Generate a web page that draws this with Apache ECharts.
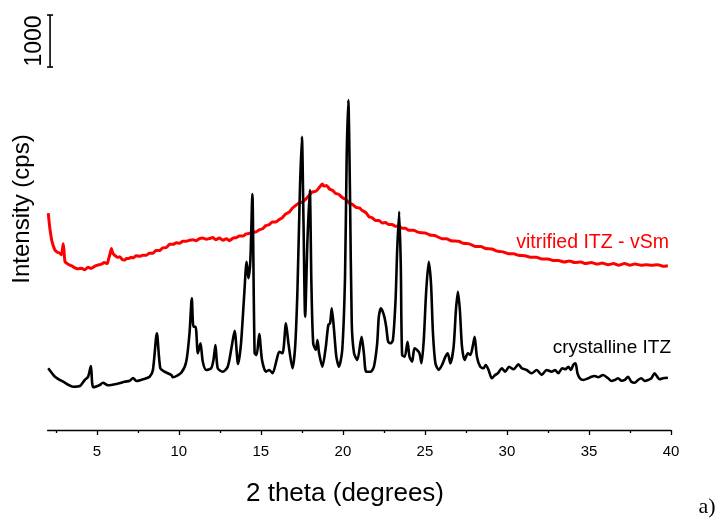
<!DOCTYPE html>
<html>
<head>
<meta charset="utf-8">
<script src="https://cdn.jsdelivr.net/npm/echarts@6/dist/echarts.min.js"></script>
<style>html,body{margin:0;padding:0;background:#fff}#c{width:720px;height:518px}</style>
</head>
<body>
<div id="c"></div>
<script>
// 2theta (degrees), intensity (cps)
const crystalline = [
[2.04,1187],[2.45,1025],[2.95,929],[3.56,833],[3.97,846],[4.27,962],[4.47,1025],[4.64,1231],[4.78,821],
[5.18,865],[5.37,910],[5.67,860],[6.20,885],[6.70,929],[7.01,948],[7.21,1000],[7.41,942],[7.81,975],
[8.22,1025],[8.42,1154],[8.66,1860],[8.87,1187],[9.13,1121],[9.54,1058],[9.64,1013],[10.15,1102],
[10.45,1313],[10.65,1860],[10.79,2533],[10.89,1987],[11.02,1987],[11.16,1475],[11.32,1667],[11.46,1313],
[11.67,1154],[11.97,1187],[12.11,1346],[12.23,1635],[12.37,1187],[12.67,1121],[12.98,1217],[13.22,1602],
[13.40,1910],[13.61,1269],[13.79,1667],[13.99,2629],[14.13,3236],[14.24,2917],[14.36,3269],[14.48,4538],
[14.62,1475],[14.74,1442],[14.90,1846],[15.07,1346],[15.31,1121],[15.51,1154],[15.71,1090],[15.96,1346],
[16.12,1506],[16.32,1475],[16.53,2052],[16.68,1667],[16.93,1187],[17.09,1602],[17.23,2692],[17.38,4615],
[17.50,5640],[17.60,3975],[17.70,2179],[17.84,3654],[17.98,4615],[18.08,2821],[18.19,1667],[18.35,1538],
[18.45,1731],[18.55,1475],[18.75,1217],[18.96,1602],[19.11,2019],[19.22,2052],[19.32,2340],[19.46,1923],
[19.60,1410],[19.76,1217],[19.96,1538],[20.13,2948],[20.23,5256],[20.33,6346],[20.43,4615],[20.54,2052],
[20.68,1475],[20.88,1346],[21.14,1794],[21.28,1475],[21.42,1121],[21.69,1121],[21.89,1217],[22.09,1667],
[22.19,2179],[22.32,2340],[22.50,2211],[22.64,1987],[22.76,1698],[22.91,1667],[23.05,1731],[23.21,2500],
[23.31,3461],[23.43,4198],[23.53,3140],[23.61,1442],[23.77,1410],[23.94,1698],[24.06,1410],[24.22,1313],
[24.36,1571],[24.52,1538],[24.67,1475],[24.79,1283],[24.93,1731],[25.07,2629],[25.23,3236],[25.37,2821],
[25.49,1860],[25.64,1283],[25.84,1154],[26.04,1250],[26.25,1410],[26.39,1475],[26.55,1283],[26.75,1602],
[26.89,2308],[27.01,2660],[27.13,2308],[27.26,1602],[27.42,1346],[27.62,1475],[27.77,1442],[27.91,1602],
[28.03,1794],[28.17,1410],[28.37,1217],[28.57,1187],[28.71,1250],[28.88,1154],[29.08,994],[29.28,1058],
[29.44,1090],[29.69,1187],[29.89,1121],[30.13,1217],[30.40,1167],[30.70,1263],[30.90,1187],[31.20,1154],
[31.51,1090],[31.81,1154],[32.12,1058],[32.42,1154],[32.72,1121],[32.93,1154],[33.13,1090],[33.37,1187],
[33.57,1167],[33.74,1217],[33.90,1154],[34.04,1250],[34.18,1283],[34.30,1090],[34.45,994],[34.65,962],
[34.95,994],[35.15,1025],[35.36,1038],[35.56,1013],[35.86,1058],[36.17,994],[36.37,942],[36.57,962],
[36.78,994],[36.98,948],[37.18,962],[37.38,1025],[37.58,929],[37.79,910],[37.99,962],[38.19,994],
[38.40,942],[38.60,962],[38.80,994],[39.00,1090],[39.16,1025],[39.31,975],[39.51,994],[39.81,1006]
];
const vitrified = [
[2.04,4170],[2.1,3980],[2.15,3850],[2.25,3650],[2.35,3540],[2.45,3460],[2.6,3420],[2.75,3400],[2.85,3370],
[2.95,3580],[3.0,3450],[3.06,3240],[3.2,3200],[3.36,3170],[3.5,3150],[3.67,3120],[3.85,3100],[4.07,3110],
[4.25,3080],[4.47,3130],[4.65,3110],[4.88,3150],[5.05,3170],[5.29,3190],[5.45,3220],[5.63,3200],[5.72,3290],
[5.8,3380],[5.89,3490],[5.97,3400],[6.09,3360],[6.25,3320],[6.39,3330],[6.55,3280],[6.7,3270],[6.81,3300],
[6.95,3300],[7.1,3320],[7.21,3310],[7.4,3350],[7.61,3340],[7.8,3360],[8.02,3360],[8.2,3400],[8.42,3400],
[8.6,3450],[8.83,3450],[9.0,3500],[9.24,3510],[9.45,3570],[9.64,3570],[9.85,3600],[10.04,3590],[10.25,3630],
[10.45,3630],[10.65,3650],[10.85,3660],[11.05,3640],[11.26,3680],[11.45,3690],[11.67,3670],[11.85,3680],
[12.07,3700],[12.25,3660],[12.47,3690],[12.7,3650],[12.9,3680],[13.08,3640],[13.3,3690],[13.5,3700],
[13.69,3730],[13.9,3730],[14.1,3770],[14.3,3780],[14.5,3810],[14.7,3810],[14.9,3850],[15.1,3870],
[15.3,3930],[15.51,3950],[15.7,4000],[15.9,4000],[16.12,4050],[16.3,4080],[16.5,4150],[16.73,4190],
[16.9,4260],[17.13,4320],[17.3,4360],[17.5,4380],[17.74,4440],[17.94,4510],[18.1,4570],[18.35,4590],
[18.55,4660],[18.75,4730],[18.85,4690],[19.0,4700],[19.2,4630],[19.36,4610],[19.56,4550],[19.76,4530],
[19.96,4470],[20.2,4430],[20.4,4360],[20.57,4340],[20.8,4280],[21.0,4270],[21.18,4220],[21.4,4180],
[21.6,4100],[21.79,4080],[21.99,4030],[22.2,4030],[22.4,3980],[22.6,3990],[22.8,3950],[23.0,3950],
[23.2,3920],[23.41,3920],[23.6,3880],[23.8,3880],[24.02,3840],[24.3,3840],[24.62,3800],[25.03,3790],
[25.3,3750],[25.6,3740],[26.04,3680],[26.3,3680],[26.6,3640],[27.05,3630],[27.35,3590],[27.7,3580],
[28.07,3530],[28.4,3530],[28.7,3490],[29.08,3480],[29.4,3440],[29.7,3430],[30.09,3390],[30.4,3390],
[30.7,3360],[31.11,3350],[31.5,3320],[31.8,3320],[32.12,3290],[32.5,3290],[32.8,3260],[33.13,3260],
[33.5,3230],[33.8,3250],[34.14,3220],[34.5,3230],[34.8,3200],[35.15,3220],[35.5,3190],[35.8,3210],
[36.17,3180],[36.5,3200],[36.8,3170],[37.18,3200],[37.5,3170],[37.8,3190],[38.19,3170],[38.5,3180],
[38.8,3170],[39.2,3180],[39.5,3150],[39.81,3160]
];
const majorTicks = [5, 10, 15, 20, 25, 30, 35, 40];
const minorTicks = [2.5, 7.5, 12.5, 17.5, 22.5, 27.5, 32.5, 37.5];
const scaleBar = [[2.15, 6980], [2.15, 7980]];
const scaleBarLabel = '1000';

const FONT = 'Liberation Sans, Arial, sans-serif';
const chart = echarts.init(document.getElementById('c'), null, {renderer: 'canvas'});
chart.setOption({
  animation: false,
  backgroundColor: '#ffffff',
  grid: {left: 47.6, right: 49, top: 14, bottom: 88},
  xAxis: [{
    type: 'value', min: 2, max: 40,
    axisLine: {show: true, lineStyle: {color: '#000', width: 1.3}},
    axisTick: {show: true, customValues: majorTicks, length: 5, inside: false, lineStyle: {color: '#000', width: 1.3}},
    axisLabel: {show: true, customValues: majorTicks, color: '#000', fontSize: 15, fontFamily: FONT, margin: 14},
    splitLine: {show: false}
  }, {
    type: 'value', min: 2, max: 40, position: 'bottom',
    axisLine: {show: false},
    axisTick: {show: true, customValues: minorTicks, length: 3, lineStyle: {color: '#000', width: 1.3}},
    axisLabel: {show: false},
    splitLine: {show: false}
  }],
  yAxis: {type: 'value', min: 0, max: 8000, show: false},
  series: [
    {type: 'line', data: vitrified, showSymbol: false, symbol: 'none', smooth: 0.2,
     lineStyle: {color: '#ff0000', width: 3}, z: 2},
    {type: 'line', data: crystalline, showSymbol: false, symbol: 'none', smooth: 0.25,
     lineStyle: {color: '#000000', width: 2.6}, z: 3},
    {type: 'line', data: scaleBar, symbol: 'rect', symbolSize: [6, 1.6], showSymbol: true,
     itemStyle: {color: '#000'}, lineStyle: {color: '#000', width: 1.6}, z: 4}
  ],
  graphic: [
    {type: 'text', x: 35, y: 41, rotation: Math.PI / 2,
     style: {text: scaleBarLabel, font: '23px ' + FONT, fill: '#000', align: 'center', verticalAlign: 'middle'}},
    {type: 'text', x: 22, y: 209, rotation: Math.PI / 2,
     style: {text: 'Intensity (cps)', font: '24px ' + FONT, fill: '#000', align: 'center', verticalAlign: 'middle'}},
    {type: 'text', x: 345, y: 494,
     style: {text: '2 theta (degrees)', font: '26px ' + FONT, fill: '#000', align: 'center', verticalAlign: 'middle'}},
    {type: 'text', x: 707, y: 507,
     style: {text: 'a)', font: '22px Liberation Serif, Times New Roman, serif', fill: '#000', align: 'center', verticalAlign: 'middle'}},
    {type: 'text', x: 669, y: 243,
     style: {text: 'vitrified ITZ - vSm', font: '19.5px ' + FONT, fill: '#ff0000', align: 'right', verticalAlign: 'middle'}},
    {type: 'text', x: 671, y: 348,
     style: {text: 'crystalline ITZ', font: '19px ' + FONT, fill: '#000', align: 'right', verticalAlign: 'middle'}}
  ]
});
</script>
</body>
</html>
